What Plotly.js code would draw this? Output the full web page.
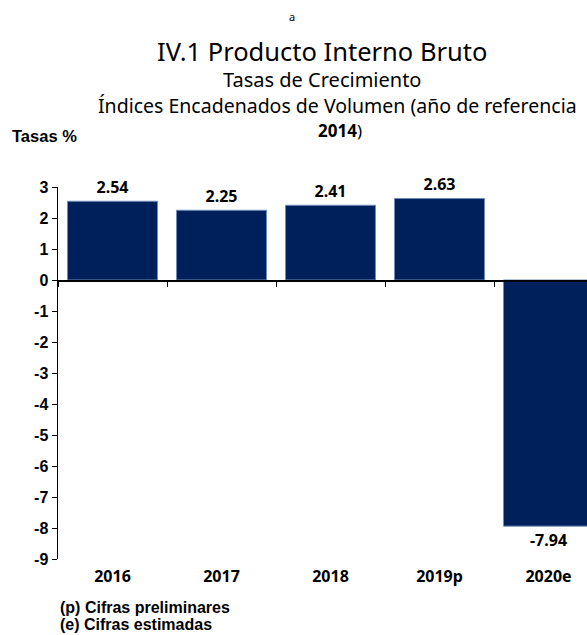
<!DOCTYPE html>
<html>
<head>
<meta charset="utf-8">
<script src="https://cdn.plot.ly/plotly-3.0.1.min.js"></script>
<style>html,body{margin:0;padding:0;background:#fff;overflow:hidden}</style>
</head>
<body>
<div id="chart" style="width:587px;height:635px"></div>
<script>
var categories = ["2016", "2017", "2018", "2019p", "2020e"];
var values = [2.54, 2.25, 2.41, 2.63, -7.94];
var valueLabels = ["2.54", "2.25", "2.41", "2.63", "-7.94"];
var yTicks = [3, 2, 1, 0, -1, -2, -3, -4, -5, -6, -7, -8, -9];
var yTickLabels = ["3", "2", "1", "0", "-1", "-2", "-3", "-4", "-5", "-6", "-7", "-8", "-9"];

var W = 587, H = 635, L = 58, R = 0, T = 187, B = 76;
function px(x) { return (x - L) / (W - L - R); }
function py(y) { return (H - B - y) / (H - T - B); }

var trace = {
  type: "bar",
  x: categories,
  y: values,
  text: valueLabels,
  textposition: "outside",
  cliponaxis: false,
  textfont: {family: "Noto Sans", size: 16, color: "#000", weight: "bold"},
  marker: {color: "#00205b", line: {color: "#6f8cb8", width: 1}},
  width: 0.826,
  hoverinfo: "skip"
};

var annFont = "Noto Sans";
var layout = {
  width: W, height: H,
  margin: {l: L, r: R, t: T, b: B, pad: 0},
  paper_bgcolor: "#fff", plot_bgcolor: "#fff",
  showlegend: false,
  xaxis: {
    type: "category",
    categoryarray: categories,
    range: [-0.5, 4.353],
    anchor: "free", position: py(280),
    showline: true, linecolor: "#000", linewidth: 1.5,
    ticks: "outside", tickson: "boundaries", ticklen: 5, tickcolor: "#000",
    showgrid: false, zeroline: false,
    ticklabelstandoff: 281,
    tickfont: {family: "Noto Sans", size: 16, color: "#000", weight: "bold"}
  },
  yaxis: {
    range: [-9, 3],
    tickvals: yTicks,
    ticktext: yTickLabels,
    showline: true, linecolor: "#000", linewidth: 1.5,
    ticks: "outside", ticklen: 5, tickcolor: "#000",
    showgrid: false, zeroline: false,
    tickfont: {family: "Liberation Sans", size: 16, color: "#000", weight: "bold"}
  },
  annotations: [
    {text: "a", x: px(292), y: py(16), xref: "paper", yref: "paper", showarrow: false, xanchor: "center", yanchor: "middle", font: {family: annFont, size: 11, color: "#000"}},
    {text: "IV.1 Producto Interno Bruto", x: px(322), y: py(51), xref: "paper", yref: "paper", showarrow: false, xanchor: "center", yanchor: "middle", font: {family: annFont, size: 25.5, color: "#000"}},
    {text: "Tasas de Crecimiento", x: px(322), y: py(79), xref: "paper", yref: "paper", showarrow: false, xanchor: "center", yanchor: "middle", font: {family: annFont, size: 20, color: "#000"}},
    {text: "Índices Encadenados de Volumen (año de referencia", x: px(96), y: py(106), xref: "paper", yref: "paper", showarrow: false, xanchor: "left", yanchor: "middle", font: {family: annFont, size: 19.5, color: "#000"}},
    {text: "<b>2014</b>)", x: px(340), y: py(131), xref: "paper", yref: "paper", showarrow: false, xanchor: "center", yanchor: "middle", font: {family: annFont, size: 17, color: "#000"}},
    {text: "<b>Tasas %</b>", x: px(10), y: py(136), xref: "paper", yref: "paper", showarrow: false, xanchor: "left", yanchor: "middle", font: {family: "Liberation Sans", size: 16.5, color: "#000"}},
    {text: "<b>(p) Cifras preliminares</b>", x: px(58), y: py(607), xref: "paper", yref: "paper", showarrow: false, xanchor: "left", yanchor: "middle", font: {family: "Liberation Sans", size: 16, color: "#000"}},
    {text: "<b>(e) Cifras estimadas</b>", x: px(58), y: py(624), xref: "paper", yref: "paper", showarrow: false, xanchor: "left", yanchor: "middle", font: {family: "Liberation Sans", size: 16, color: "#000"}}
  ]
};

Plotly.newPlot("chart", [trace], layout, {displayModeBar: false, staticPlot: true});
</script>
</body>
</html>
